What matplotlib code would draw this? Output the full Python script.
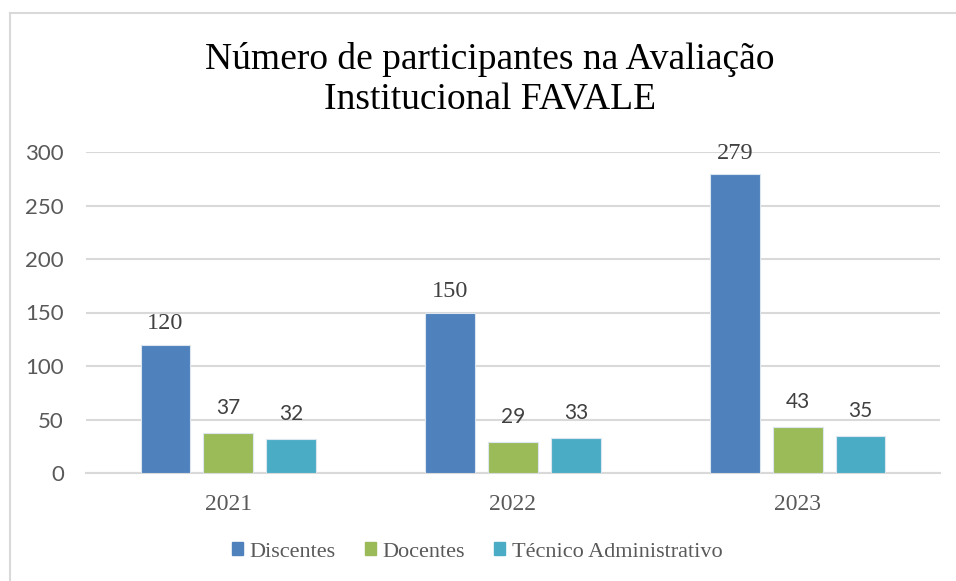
import numpy as np
import matplotlib.pyplot as plt
from matplotlib.lines import Line2D

# --- dados ---
anos = ["2021", "2022", "2023"]
series = ["Discentes", "Docentes", "Técnico Administrativo"]
discentes = [120, 150, 279]
docentes = [37, 29, 43]
tecnicos = [32, 33, 35]
cores = ["#4F81BD", "#9BBB59", "#4BACC6"]

W, H = 956, 581
fig = plt.figure(figsize=(W / 100, H / 100), dpi=100)

# eixo principal (em pixels -> fração)
left, right, bottom, top = 86, 940, 473, 152
ax = fig.add_axes([left / W, 1 - bottom / H, (right - left) / W, (bottom - top) / H])

x = np.arange(len(anos))
largura = 0.175
passo = 0.221
valores = [discentes, docentes, tecnicos]

for k, (nome, vals, cor) in enumerate(zip(series, valores, cores)):
    pos = x + (k - 1) * passo
    ax.bar(pos, vals, width=largura, color=cor, edgecolor="#dbe6f1",
           linewidth=0.8, label=nome, zorder=3)
    for p, v in zip(pos, vals):
        if k == 0:
            ax.text(p, v + 10, str(v), ha="center", va="bottom", fontsize=17.5,
                    family="Liberation Serif", color="#404040", clip_on=False)
        else:
            ax.text(p, v + 14, str(v), ha="center", va="bottom", fontsize=15,
                    family="Lato", color="#404040", clip_on=False)

ax.set_xlim(-0.5, 2.5)
ax.set_ylim(0, 300)
ax.set_yticks(range(0, 301, 50))
ax.yaxis.grid(True, color="#d9d9d9", linewidth=1.5, zorder=0)
ax.set_axisbelow(True)
for s in ["top", "right", "left"]:
    ax.spines[s].set_visible(False)
ax.spines["bottom"].set_color("#d9d9d9")
ax.spines["bottom"].set_linewidth(1.5)
ax.tick_params(axis="both", length=0)
ax.tick_params(axis="y", pad=16, labelsize=16, labelcolor="#595959")
ax.tick_params(axis="x", pad=15, labelsize=17, labelcolor="#595959")
for t in ax.get_yticklabels():
    t.set_family("Lato")
ax.set_xticks(x)
ax.set_xticklabels(anos, family="Liberation Serif")

# título
fig.text(490 / W, 1 - 80 / H, "Número de participantes na Avaliação\nInstitucional FAVALE",
         ha="center", va="center", fontsize=27, family="Liberation Serif",
         color="black", linespacing=1.22)

# legenda
handles = [plt.Rectangle((0, 0), 1, 1, color=c) for c in cores]
fig.legend(handles, series, loc="center", bbox_to_anchor=(477 / W, 1 - 552 / H),
           ncol=3, frameon=False, prop={"family": "Liberation Serif", "size": 16},
           labelcolor="#595959", handlelength=0.5, handleheight=0.5,
           handletextpad=0.3, columnspacing=1.3)

# borda do gráfico (apenas topo e esquerda visíveis)
fig.add_artist(Line2D([10 / W, 1], [1 - 13 / H, 1 - 13 / H], color="#d9d9d9", linewidth=1.5))
fig.add_artist(Line2D([10 / W, 10 / W], [0, 1 - 13 / H], color="#d9d9d9", linewidth=1.5))

fig.savefig("out.png", dpi=100, facecolor="white")
